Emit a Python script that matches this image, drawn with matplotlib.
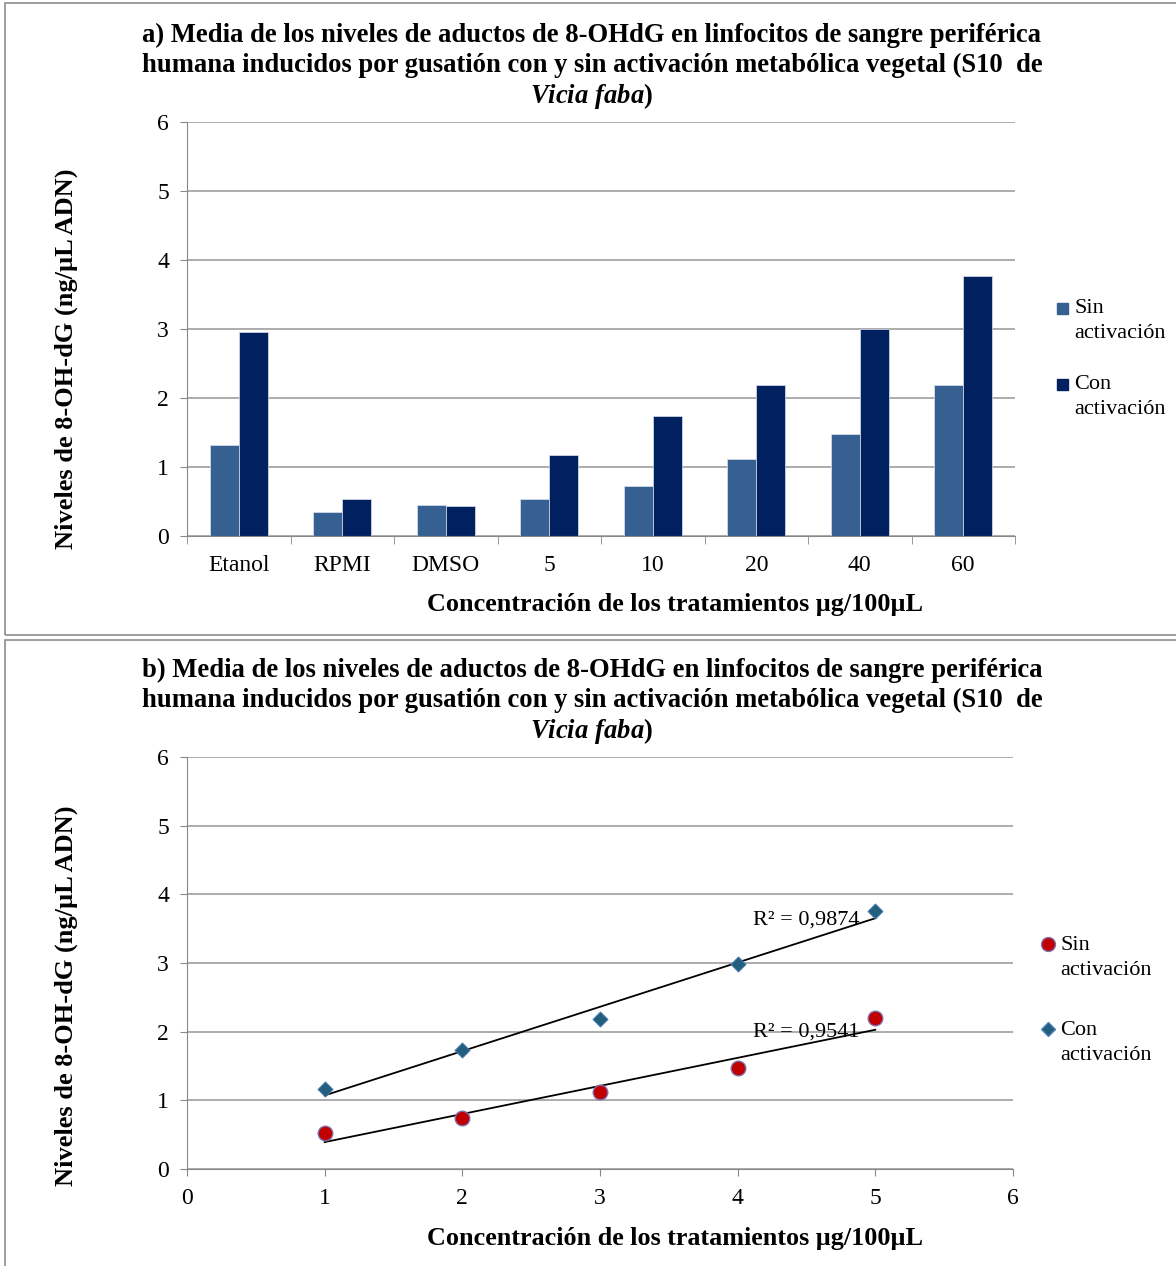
import numpy as np
import matplotlib.pyplot as plt
from matplotlib.patches import Rectangle
from matplotlib.lines import Line2D

plt.rcParams['font.family'] = ['Liberation Serif', 'DejaVu Serif']
plt.rcParams['mathtext.fontset'] = 'custom'
plt.rcParams['mathtext.rm'] = 'Liberation Serif:bold'
plt.rcParams['mathtext.it'] = 'Liberation Serif:bold:italic'
plt.rcParams['mathtext.bf'] = 'Liberation Serif:bold'

categorias = ['Etanol', 'RPMI', 'DMSO', '5', '10', '20', '40', '60']
sin_act = [1.32, 0.35, 0.45, 0.53, 0.73, 1.12, 1.48, 2.19]
con_act = [2.96, 0.53, 0.43, 1.18, 1.74, 2.19, 3.00, 3.77]

# doses 5..60 plotted as positions 1..5 in panel b
x_dosis = [1, 2, 3, 4, 5]
sin_dosis = [0.52, 0.74, 1.12, 1.47, 2.20]
con_dosis = [1.16, 1.73, 2.18, 2.98, 3.76]
r2_sin = '0,9541'
r2_con = '0,9874'

c_sin = '#376092'
c_con = '#002060'
c_grid = '#A6A6A6'

W, H = 1176, 1266
fig = plt.figure(figsize=(W / 100, H / 100), dpi=100)

def fx(px):
    return px / W

def fy(py):
    return 1 - py / H

# panel frames
for y0, y1 in [(3, 635), (640, 1268)]:
    fig.patches.append(Rectangle((fx(5), fy(y1)), fx(1180) - fx(5), fy(y0) - fy(y1),
                                 transform=fig.transFigure, fill=False,
                                 edgecolor='#8C8C8C', lw=1.2))

def estilo(ax):
    for s in ['top', 'right']:
        ax.spines[s].set_visible(False)
    ax.spines['left'].set_color('#888888')
    ax.spines['bottom'].set_color('#888888')
    ax.yaxis.grid(True, color=c_grid, lw=1.3)
    ax.set_axisbelow(True)
    ax.set_ylim(0, 6)
    ax.set_yticks(range(0, 7))
    ax.tick_params(axis='both', colors='#888888', labelcolor='black', labelsize=17, length=5)
    ax.tick_params(axis='y', pad=8)
    ax.tick_params(axis='x', pad=14)

def encabezado(letra, py0):
    lineas = [letra + ' Media de los niveles de aductos de 8-OHdG en linfocitos de sangre periférica',
              'humana inducidos por gusatión con y sin activación metabólica vegetal (S10  de',
              r'$\it{Vicia\ faba}$)']
    for i, t in enumerate(lineas):
        fig.text(fx(592), fy(py0 + 30.5 * i), t, ha='center', va='center',
                 fontsize=19.2, fontweight='bold')

def ejes_textos(py_lab, py_x):
    fig.text(fx(66), fy(py_lab), 'Niveles de 8-OH-dG (ng/µL ADN)', rotation=90,
             ha='center', va='center', fontsize=19, fontweight='bold')
    fig.text(fx(675), fy(py_x), 'Concentración de los tratamientos µg/100µL',
             ha='center', va='center', fontsize=18.8, fontweight='bold')

def leyenda(handles, px, py_list):
    for h, py, txt in zip(handles, py_list, ['Sin', 'Con']):
        h.set_transform(fig.transFigure)
        fig.add_artist(h)
        fig.text(fx(px + 12), fy(py), txt + '\nactivación', ha='left', va='top',
                 fontsize=16, linespacing=1.45)

# a) bar chart
ax1 = fig.add_axes([fx(187), fy(536), fx(1015) - fx(187), fy(122) - fy(536)])
x = np.arange(len(categorias))
w = 0.28
ax1.bar(x - w / 2, sin_act, w, color=c_sin, edgecolor='#DDE3EC', lw=0.5)
ax1.bar(x + w / 2, con_act, w, color=c_con, edgecolor='#DDE3EC', lw=0.5)
estilo(ax1)
ax1.set_xlim(-0.5, len(categorias) - 0.5)
ax1.set_xticks(x)
ax1.set_xticklabels(categorias)
ax1.set_xticks(np.arange(-0.5, len(categorias)), minor=True)
ax1.tick_params(axis='x', which='major', length=0)
ax1.tick_params(axis='x', which='minor', length=6, colors='#888888')
leyenda([Rectangle((fx(1057), fy(314)), fx(11), 11 / H, color=c_sin),
         Rectangle((fx(1057), fy(390)), fx(11), 11 / H, color=c_con)],
        1062, [299, 375])
encabezado('a)', 35)
ejes_textos(359, 605)

# b) scatter with linear trend lines
ax2 = fig.add_axes([fx(187), fy(1169), fx(1013) - fx(187), fy(757) - fy(1169)])
estilo(ax2)
ax2.set_xlim(0, 6)
ax2.set_xticks(range(0, 7))
ax2.tick_params(axis='x', pad=9)
xs = np.array(x_dosis, dtype=float)
for ys in (con_dosis, sin_dosis):
    m, b = np.polyfit(xs, ys, 1)
    ax2.plot([1, 5], [m * 1 + b, m * 5 + b], color='black', lw=1.3, zorder=3)
ax2.scatter(x_dosis, sin_dosis, s=110, marker='o', color='#C00000',
            edgecolor='#7F6BAA', lw=1, zorder=4)
ax2.scatter(x_dosis, con_dosis, s=60, marker='D', color='#245E7D',
            edgecolor='#4F81BD', lw=0.6, zorder=4)
ax2.text(4.11, 3.63, 'R² = ' + r2_con, fontsize=16, va='center', ha='left')
ax2.text(4.11, 2.0, 'R² = ' + r2_sin, fontsize=16, va='center', ha='left')
leyenda([Line2D([fx(1048)], [fy(944)], ls='', marker='o', ms=10, color='#C00000', mec='#7F6BAA'),
         Line2D([fx(1048)], [fy(1029)], ls='', marker='D', ms=7, color='#245E7D', mec='#4F81BD')],
        1048, [936, 1021])
encabezado('b)', 670)
ejes_textos(996, 1238)

fig.savefig('out.png', dpi=100)
